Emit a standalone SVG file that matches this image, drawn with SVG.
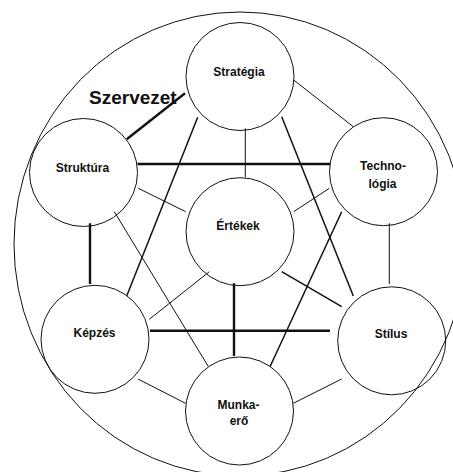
<svg xmlns="http://www.w3.org/2000/svg" width="453" height="472" viewBox="0 0 453 472">
<style>
  .bg { fill: #ffffff; }
  .outer { fill: none; stroke: #111; stroke-width: 1; }
  .node circle { fill: none; stroke: #111; stroke-width: 1; }
  .lbl { font-family: "Liberation Sans", Arial, sans-serif; font-weight: bold; font-size: 12px; fill: #111; text-anchor: middle; }
  .title { font-family: "Liberation Sans", Arial, sans-serif; font-weight: bold; font-size: 19px; fill: #111; }
  .thin { stroke: #111; stroke-width: 1; fill: none; }
  .med { stroke: #111; stroke-width: 1.5; fill: none; }
  .thick { stroke: #111; stroke-width: 2.4; fill: none; }
</style>
<rect class="bg" x="0" y="0" width="453" height="472"/>
<g id="szervezet">
  <ellipse class="outer" cx="240" cy="244" rx="226" ry="232"/>
  <text class="title" x="89" y="104">Szervezet</text>
</g>
<g id="connectors">
  <line class="thick" x1="185" y1="93.3" x2="126.7" y2="139.3"/>
  <line class="thin" x1="293.7" y1="80" x2="353.3" y2="126.7"/>
  <line class="thin" x1="245.3" y1="128.3" x2="245.3" y2="177.3"/>
  <line class="thick" x1="137.5" y1="164" x2="330" y2="164"/>
  <line class="med" x1="197.7" y1="117.3" x2="126.7" y2="296"/>
  <line class="med" x1="281.7" y1="116.7" x2="353.3" y2="296"/>
  <line class="thin" x1="138.3" y1="188.3" x2="185.7" y2="211.7"/>
  <line class="thin" x1="329.3" y1="188.3" x2="293.7" y2="211.7"/>
  <line class="thick" x1="90" y1="223.3" x2="90" y2="284"/>
  <line class="thin" x1="114.3" y1="211.7" x2="208.3" y2="366.5"/>
  <line class="thin" x1="389.3" y1="223.3" x2="389.3" y2="284"/>
  <line class="med" x1="341.7" y1="211.7" x2="270" y2="366.7"/>
  <line class="thin" x1="209.3" y1="271.7" x2="149.3" y2="319.3"/>
  <line class="med" x1="281.7" y1="271.7" x2="341.7" y2="306.7"/>
  <line class="thick" x1="234" y1="283.3" x2="234" y2="356"/>
  <line class="thick" x1="150" y1="330.7" x2="330" y2="330.7"/>
  <line class="thin" x1="138" y1="379" x2="185.5" y2="403.3"/>
  <line class="thin" x1="341.7" y1="379" x2="293.3" y2="403.3"/>
</g>
<g id="strategia" class="node">
  <circle cx="240" cy="76.5" r="54"/>
  <text class="lbl" x="239" y="76">Stratégia</text>
</g>
<g id="struktura" class="node">
  <circle cx="83.5" cy="172.5" r="54"/>
  <text class="lbl" x="82.5" y="171.7">Struktúra</text>
</g>
<g id="technologia" class="node">
  <circle cx="383.5" cy="171.7" r="54"/>
  <text class="lbl" x="383" y="170">Techno-</text>
  <text class="lbl" x="382.5" y="187.7">lógia</text>
</g>
<g id="ertekek" class="node">
  <circle cx="240" cy="231.7" r="54"/>
  <text class="lbl" x="238" y="230">Értékek</text>
</g>
<g id="kepzes" class="node">
  <circle cx="95" cy="339.3" r="54"/>
  <text class="lbl" x="94.5" y="337">Képzés</text>
</g>
<g id="stilus" class="node">
  <circle cx="391.7" cy="340.8" r="54"/>
  <text class="lbl" x="391" y="338">Stílus</text>
</g>
<g id="munkaero" class="node">
  <circle cx="239.5" cy="411" r="54"/>
  <text class="lbl" x="238.5" y="409.3">Munka-</text>
  <text class="lbl" x="239" y="425.3">erő</text>
</g>
</svg>
